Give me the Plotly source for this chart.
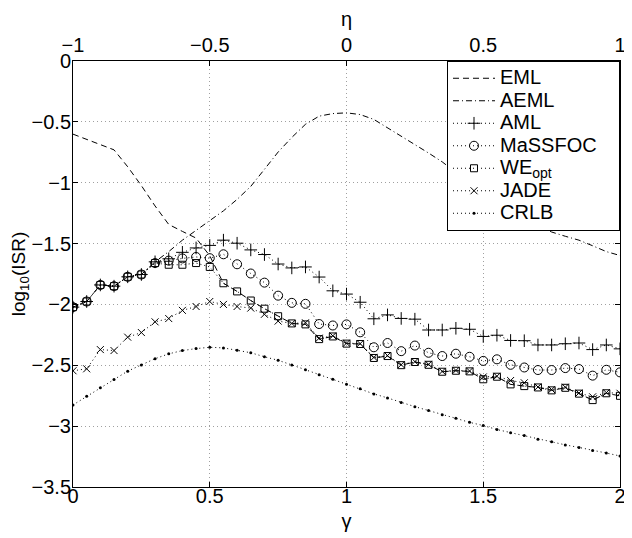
import plotly.graph_objects as go

gamma = [0.00, 0.05, 0.10, 0.15, 0.20, 0.25, 0.30, 0.35, 0.40, 0.45,
         0.50, 0.55, 0.60, 0.65, 0.70, 0.75, 0.80, 0.85, 0.90, 0.95,
         1.00, 1.05, 1.10, 1.15, 1.20, 1.25, 1.30, 1.35, 1.40, 1.45,
         1.50, 1.55, 1.60, 1.65, 1.70, 1.75, 1.80, 1.85, 1.90, 1.95, 2.00]

eta_ticks = [-1, -0.5, 0, 0.5, 1]
gamma_ticks = [0, 0.5, 1, 1.5, 2]
y_ticks = [0, -0.5, -1, -1.5, -2, -2.5, -3, -3.5]

eml = [-0.601, -0.644, -0.687, -0.730, -0.869, -1.024, -1.191, -1.343, -1.400, -1.455,
       -1.600, -1.826, -1.893, -1.968, -2.035, -2.097, -2.156, -2.164, -2.285, -2.263,
       -2.322, -2.325, -2.440, -2.424, -2.499, -2.473, -2.496, -2.553, -2.545, -2.550,
       -2.615, -2.594, -2.657, -2.671, -2.682, -2.706, -2.685, -2.733, -2.786, -2.730, -2.751]

aeml = [-2.022, -1.976, -1.840, -1.850, -1.773, -1.754, -1.650, -1.566, -1.472, -1.392,
        -1.311, -1.231, -1.137, -1.030, -0.890, -0.748, -0.628, -0.520, -0.453, -0.432,
        -0.426, -0.440, -0.480, -0.547, -0.614, -0.687, -0.756, -0.829, -0.915, -1.000,
        -1.080, -1.160, -1.235, -1.300, -1.355, -1.405, -1.440, -1.472, -1.518, -1.566, -1.598]

aml = [-2.022, -1.976, -1.840, -1.850, -1.773, -1.754, -1.650, -1.625, -1.572, -1.536,
       -1.515, -1.472, -1.497, -1.552, -1.590, -1.668, -1.700, -1.692, -1.775, -1.888,
       -1.915, -1.982, -2.118, -2.086, -2.115, -2.121, -2.210, -2.210, -2.196, -2.204,
       -2.263, -2.253, -2.296, -2.298, -2.333, -2.333, -2.323, -2.317, -2.371, -2.333, -2.365]

massfoc = [-2.022, -1.976, -1.840, -1.850, -1.773, -1.754, -1.660, -1.640, -1.622, -1.610,
           -1.620, -1.588, -1.670, -1.746, -1.821, -1.928, -1.987, -1.995, -2.161, -2.173,
           -2.164, -2.229, -2.352, -2.317, -2.384, -2.338, -2.397, -2.424, -2.405, -2.430,
           -2.464, -2.451, -2.496, -2.518, -2.539, -2.539, -2.523, -2.531, -2.585, -2.537, -2.558]

we_opt = [-2.022, -1.976, -1.840, -1.850, -1.773, -1.754, -1.660, -1.674, -1.674, -1.660,
          -1.692, -1.826, -1.893, -1.968, -2.035, -2.097, -2.156, -2.164, -2.285, -2.263,
          -2.322, -2.325, -2.440, -2.424, -2.499, -2.473, -2.496, -2.553, -2.545, -2.550,
          -2.615, -2.594, -2.657, -2.671, -2.682, -2.706, -2.685, -2.733, -2.786, -2.730, -2.751]

jade = [-2.545, -2.529, -2.371, -2.379, -2.269, -2.231, -2.143, -2.116, -2.049, -2.017,
        -1.976, -2.000, -2.017, -2.030, -2.081, -2.137, -2.156, -2.151, -2.277, -2.258,
        -2.318, -2.322, -2.435, -2.420, -2.495, -2.470, -2.492, -2.550, -2.542, -2.547,
        -2.596, -2.590, -2.625, -2.644, -2.678, -2.700, -2.680, -2.728, -2.759, -2.725, -2.730]

crlb = [-2.826, -2.754, -2.685, -2.617, -2.548, -2.497, -2.446, -2.406, -2.379, -2.363,
        -2.352, -2.357, -2.376, -2.397, -2.430, -2.459, -2.497, -2.537, -2.577, -2.615,
        -2.655, -2.693, -2.735, -2.768, -2.805, -2.840, -2.872, -2.907, -2.936, -2.969,
        -2.995, -3.028, -3.054, -3.076, -3.108, -3.129, -3.154, -3.175, -3.201, -3.221, -3.245]

FONT = "Liberation Sans, Arial, Helvetica, sans-serif"
DOT = "1px,3px"


def big(name, pad=0):
    return '<span style="font-size:20px">' + name + '&nbsp;' * pad + '</span>'


fig = go.Figure()

fig.add_trace(go.Scatter(x=gamma, y=eml, name=big("EML"), mode="lines",
                         line=dict(color="black", width=1, dash="6px,4px")))
fig.add_trace(go.Scatter(x=gamma, y=aeml, name=big("AEML"), mode="lines",
                         line=dict(color="black", width=1, dash="6px,3px,1px,3px")))


def marker_trace(y, name, symbol, size, mlw=1):
    return go.Scatter(x=gamma, y=y, name=name, mode="lines+markers",
                      line=dict(color="black", width=1, dash=DOT),
                      marker=dict(symbol=symbol, size=size, color="black",
                                  line=dict(color="black", width=mlw)))


fig.add_trace(marker_trace(aml, big("AML"), "cross-thin-open", 9))
fig.add_trace(marker_trace(massfoc, big("MaSSFOC", 3), "circle-open", 9))
fig.add_trace(marker_trace(we_opt, big("WE<sub>opt</sub>"), "square-open", 7))
fig.add_trace(marker_trace(jade, big("JADE"), "x-thin-open", 7))
fig.add_trace(marker_trace(crlb, big("CRLB"), "circle", 3, 0))

# invisible trace to anchor the top (eta) axis
fig.add_trace(go.Scatter(x=eta_ticks, y=[None] * len(eta_ticks), xaxis="x2",
                         mode="lines", showlegend=False, hoverinfo="skip"))

axis_common = dict(showline=True, linecolor="black", linewidth=1,
                   ticks="inside", ticklen=5, tickcolor="black",
                   tickfont=dict(family=FONT, size=20, color="black"),
                   ticklabeloverflow="allow",
                   zeroline=False)

fig.update_layout(
    width=624, height=530,
    margin=dict(l=64, r=6, t=44, b=51),
    paper_bgcolor="white", plot_bgcolor="white",
    font=dict(family=FONT, size=19, color="black"),
    xaxis=dict(range=[0, 2], tickvals=gamma_ticks, ticktext=["0", "0.5", "1", "1.5", "2"],
               showgrid=True, gridcolor="rgb(160,160,160)", griddash=DOT, gridwidth=1,
               mirror=True, ticklabelstandoff=-9,
               title=dict(text="γ", font=dict(family=FONT, size=20), standoff=7),
               **axis_common),
    xaxis2=dict(range=[-1, 1], tickvals=eta_ticks, overlaying="x", side="top",
                showgrid=False, anchor="y", ticklabelstandoff=0,
                title=dict(text="η", font=dict(family=FONT, size=20), standoff=6),
                **axis_common),
    yaxis=dict(range=[-3.5, 0], tickvals=y_ticks,
               showgrid=True, gridcolor="rgb(160,160,160)", griddash=DOT, gridwidth=1,
               mirror="ticks", ticklabelstandoff=-3,
               title=dict(text="log<sub>10</sub>(ISR)", font=dict(family=FONT, size=19), standoff=4),
               **axis_common),
    legend=dict(x=1, xanchor="right", y=1.0, yanchor="top",
                bgcolor="white", bordercolor="black", borderwidth=1,
                font=dict(family=FONT, size=15, color="black"),
                itemwidth=42,
                tracegroupgap=0),
    showlegend=True,
)

fig.write_html("out.html")
